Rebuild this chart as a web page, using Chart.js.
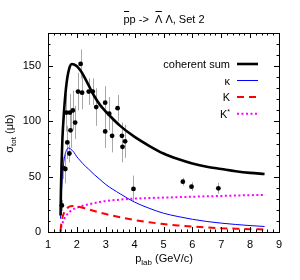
<!DOCTYPE html>
<html>
<head>
<meta charset="utf-8">
<script src="https://cdn.jsdelivr.net/npm/chart.js@4.4.1/dist/chart.umd.min.js"></script>
<style>
  html, body { margin: 0; padding: 0; background: #fff; }
  canvas { display: block; }
</style>
</head>
<body>
<canvas id="chart" width="300" height="280"></canvas>
<script>
const xTicks = [1, 2, 3, 4, 5, 6, 7, 8, 9];
const yTicks = [0, 50, 100, 150];

// measured points (p_lab, sigma, error)
const dataP     = [1.48, 1.52, 1.60, 1.64, 1.67, 1.74, 1.78, 1.76, 1.86, 1.94, 2.04, 2.13, 2.18, 2.41, 2.55, 2.67, 2.98, 2.98, 3.12, 3.22, 3.41, 3.56, 3.58, 3.67, 3.96, 5.67, 5.97, 6.90];
const dataSigma = [24, 58, 57, 108, 81, 71, 92, 108, 110, 99, 127, 152, 126, 127, 127, 113, 117, 91, 107, 87, 112, 87, 77, 82, 39, 45.5, 41, 39.5];
const dataErr   = [5, 10, 13, 17, 15, 8, 16, 17, 18, 15, 17, 13, 15, 12, 12, 17, 15, 15, 15, 15, 12, 12, 14, 15, 12, 3.5, 4, 5];

// model curves
const curveP    = [1.435, 1.45, 1.47, 1.5, 1.55, 1.6, 1.65, 1.7, 1.76, 1.83, 1.9, 2.0, 2.1, 2.2, 2.4, 2.6, 2.8, 3.0, 3.5, 4.0, 4.5, 5.0, 5.5, 6.0, 6.5, 7.0, 7.5, 8.0, 8.5];
const sumVals   = [15, 40, 62, 85, 107, 124, 136, 144, 150, 152, 151.5, 150, 147, 143, 133, 123, 115, 109, 96, 86, 78, 71, 66, 62, 59, 57, 55, 53.5, 52.5];
const kappaVals = [12, 25, 38, 52, 64, 71, 74.5, 76, 75.5, 74, 72, 68, 65, 62, 57, 52, 47.5, 43, 34.5, 27, 21.5, 17, 14, 11.5, 9.5, 8, 6.8, 5.8, 5];
const kVals     = [1, 5, 9, 13, 17, 19.5, 21, 22.3, 23.2, 23.6, 23.6, 23.2, 22.6, 22, 20.5, 19, 17.5, 16.2, 13.3, 10.8, 8.8, 7.2, 5.9, 4.9, 4.1, 3.5, 3, 2.6, 2.3];
const kstarVals = [0, 3, 5.5, 8, 11, 13.5, 15.5, 17, 18.5, 20, 21, 22, 23, 23.8, 25, 26.2, 27.2, 28, 29.3, 30.2, 30.7, 31.1, 31.5, 31.9, 32.3, 32.6, 33, 33.3, 33.6];

const legendNames = ['coherent sum', 'κ', 'K', 'K'];
// title pieces; "bar" pieces get an overline (antiparticle)
const titleParts = [
  { t: 'p', bar: true },
  { t: 'p ->  ', bar: false },
  { t: 'Λ', bar: true },
  { t: ' Λ, Set 2', bar: false }
];

const FONT = 'Liberation Sans, Arial, sans-serif';

const pts = (xs, ys) => xs.map((v, i) => ({ x: v, y: ys[i] }));

const curveStyle = [
  { color: '#000000', width: 2.6, dash: [] },
  { color: '#0000ff', width: 1, dash: [] },
  { color: '#ff0000', width: 2, dash: [7, 5] },
  { color: '#ff00ff', width: 2, dash: [2, 2.5] }
];
const curveVals = [sumVals, kappaVals, kVals, kstarVals];

const datasets = curveVals.map((vals, i) => ({
  label: legendNames[i],
  data: pts(curveP, vals),
  showLine: true,
  borderColor: curveStyle[i].color,
  borderWidth: curveStyle[i].width,
  borderDash: curveStyle[i].dash,
  pointRadius: 0,
  cubicInterpolationMode: 'monotone',
  order: i + 1
}));

datasets.push({
  label: 'data',
  data: pts(dataP, dataSigma),
  showLine: false,
  pointRadius: 2.4,
  pointBackgroundColor: '#000',
  pointBorderWidth: 0,
  order: 10
});

const decor = {
  id: 'decor',
  beforeDatasetsDraw(chart) {
    const { ctx, scales: { x, y } } = chart;
    ctx.save();
    ctx.strokeStyle = '#a8a8a8';
    ctx.lineWidth = 1;
    dataP.forEach((p, i) => {
      const px = Math.round(x.getPixelForValue(p)) + 0.5;
      ctx.beginPath();
      ctx.moveTo(px, y.getPixelForValue(dataSigma[i] - dataErr[i]));
      ctx.lineTo(px, y.getPixelForValue(dataSigma[i] + dataErr[i]));
      ctx.stroke();
    });
    ctx.restore();
  },
  afterDraw(chart) {
    const { ctx, chartArea: a, scales: { x, y } } = chart;
    ctx.save();

    // frame
    ctx.strokeStyle = '#000';
    ctx.lineWidth = 1;
    ctx.strokeRect(a.left + 0.5, a.top + 0.5, a.right - a.left, a.bottom - a.top);

    // inward tics, mirrored
    ctx.beginPath();
    for (let v = 1; v <= 9.001; v += 0.2) {
      const major = Math.abs(v - Math.round(v)) < 0.01;
      const len = major ? 5 : 2.5;
      const px = Math.round(x.getPixelForValue(v)) + 0.5;
      ctx.moveTo(px, a.bottom); ctx.lineTo(px, a.bottom - len);
      ctx.moveTo(px, a.top); ctx.lineTo(px, a.top + len);
    }
    for (let v = 0; v <= 180; v += 10) {
      const major = v % 50 === 0;
      const len = major ? 5 : 2.5;
      const py = Math.round(y.getPixelForValue(v)) + 0.5;
      ctx.moveTo(a.left, py); ctx.lineTo(a.left + len, py);
      ctx.moveTo(a.right, py); ctx.lineTo(a.right - len, py);
    }
    ctx.stroke();

    ctx.fillStyle = '#000';
    ctx.textBaseline = 'alphabetic';

    // title
    ctx.font = '11px ' + FONT;
    ctx.textAlign = 'left';
    const tw = titleParts.map(p => ctx.measureText(p.t).width);
    let tx = 164 - tw.reduce((s, w) => s + w, 0) / 2;
    titleParts.forEach((p, i) => {
      ctx.fillText(p.t, tx, 23);
      if (p.bar) {
        ctx.beginPath();
        ctx.moveTo(tx + 0.5, 11.5);
        ctx.lineTo(tx + tw[i] - 0.5, 11.5);
        ctx.stroke();
      }
      tx += tw[i];
    });

    // x label: p_lab (GeV/c)
    ctx.font = '11px ' + FONT;
    const wp = ctx.measureText('p').width;
    const wRest = ctx.measureText(' (GeV/c)').width;
    ctx.font = '8px ' + FONT;
    const wSub = ctx.measureText('lab').width;
    let sx = 164 - (wp + wSub + wRest) / 2;
    ctx.font = '11px ' + FONT;
    ctx.fillText('p', sx, 262);
    ctx.font = '8px ' + FONT;
    ctx.fillText('lab', sx + wp, 265);
    ctx.font = '11px ' + FONT;
    ctx.fillText(' (GeV/c)', sx + wp + wSub, 262);

    // y label: sigma_tot (mu b)
    ctx.save();
    ctx.translate(13, 133.5);
    ctx.rotate(-Math.PI / 2);
    ctx.font = '11px ' + FONT;
    const ws = ctx.measureText('σ').width;
    const wr = ctx.measureText(' (μb)').width;
    ctx.font = '8px ' + FONT;
    const wt = ctx.measureText('tot').width;
    let sy = -(ws + wt + wr) / 2;
    ctx.font = '11px ' + FONT;
    ctx.fillText('σ', sy, 0);
    ctx.font = '8px ' + FONT;
    ctx.fillText('tot', sy + ws, 3);
    ctx.font = '11px ' + FONT;
    ctx.fillText(' (μb)', sy + ws + wt, 0);
    ctx.restore();

    // legend
    const rowY = [64, 80.5, 97, 113.7];
    rowY.forEach((ry, i) => {
      ctx.font = '11px ' + FONT;
      ctx.textAlign = 'right';
      if (i === 3) {
        ctx.font = '7px ' + FONT;
        ctx.fillText('*', 230, ry);
        const wStar = ctx.measureText('*').width;
        ctx.font = '11px ' + FONT;
        ctx.fillText(legendNames[i], 230 - wStar, ry + 4);
      } else {
        ctx.fillText(legendNames[i], 230, ry + 4);
      }
      const st = curveStyle[i];
      ctx.beginPath();
      ctx.strokeStyle = st.color;
      ctx.lineWidth = st.width;
      ctx.setLineDash(st.dash);
      ctx.moveTo(237, ry);
      ctx.lineTo(258, ry);
      ctx.stroke();
      ctx.setLineDash([]);
    });

    ctx.restore();
  }
};

new Chart(document.getElementById('chart'), {
  type: 'scatter',
  data: { datasets },
  options: {
    responsive: false,
    devicePixelRatio: 1,
    animation: false,
    layout: { padding: { top: 33, right: 21, left: 0, bottom: 0 } },
    plugins: { legend: { display: false }, tooltip: { enabled: false } },
    scales: {
      x: {
        type: 'linear',
        min: 1,
        max: 9,
        afterBuildTicks: s => { s.ticks = xTicks.map(v => ({ value: v })); },
        afterFit: s => { s.height = 48; },
        ticks: { color: '#000', font: { family: FONT, size: 11 }, padding: 6, maxRotation: 0, autoSkip: false },
        grid: { display: false, drawTicks: false },
        border: { display: false }
      },
      y: {
        type: 'linear',
        min: 0,
        max: 180,
        afterBuildTicks: s => { s.ticks = yTicks.map(v => ({ value: v })); },
        afterFit: s => { s.width = 48; },
        ticks: { color: '#000', font: { family: FONT, size: 11 }, padding: 7, autoSkip: false },
        grid: { display: false, drawTicks: false },
        border: { display: false }
      }
    }
  },
  plugins: [decor]
});
</script>
</body>
</html>
